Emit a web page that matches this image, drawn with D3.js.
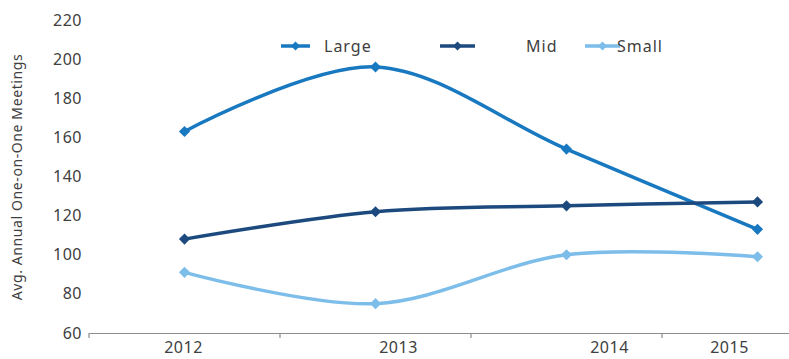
<!DOCTYPE html>
<html>
<head>
<meta charset="utf-8">
<script src="https://cdn.jsdelivr.net/npm/d3@7"></script>
<style>
  html, body { margin: 0; padding: 0; background: #fff; }
  svg { display: block; }
  text { font-family: "Noto Sans", "Open Sans", sans-serif; fill: #404040; }
</style>
</head>
<body>
<svg id="chart" width="789" height="359"></svg>
<script>
// Categories and series values
const years = ["2012", "2013", "2014", "2015"];
const largeValues = [163, 196, 154, 113];
const midValues = [108, 122, 125, 127];
const smallValues = [91, 75, 100, 99];
const yTicks = [60, 80, 100, 120, 140, 160, 180, 200, 220];
const seriesNames = ["Large", "Mid", "Small"];

const series = [
  { name: seriesNames[0], values: largeValues, color: "#1878c0" },
  { name: seriesNames[1], values: midValues, color: "#1d4a7e" },
  { name: seriesNames[2], values: smallValues, color: "#7dbde9" }
];

const svg = d3.select("#chart");

// Category axis: bands continue past the right edge of the view
const x = d3.scaleBand().domain(years).range([89, 853]);
const y = d3.scaleLinear().domain([60, 220]).range([333, 20]);

// Nudges for the year labels along the axis
const labelNudge = [-1, 23, 43, -28];

// y tick labels (no axis line)
svg.append("g")
  .selectAll("text")
  .data(yTicks)
  .join("text")
  .attr("x", 82)
  .attr("y", d => y(d))
  .attr("dy", "0.35em")
  .attr("text-anchor", "end")
  .style("font-size", "16px")
  .style("letter-spacing", "0.5px")
  .text(d => d);

// x axis
const xAxis = svg.append("g")
  .attr("transform", "translate(0,333)")
  .call(d3.axisBottom(x).tickSize(0).tickSizeOuter(0));
xAxis.select(".domain").attr("stroke", "#8c8c8c").attr("stroke-width", 1.2);
xAxis.selectAll(".tick text")
  .attr("y", 14)
  .attr("dy", "0.35em")
  .attr("dx", (d, i) => labelNudge[i])
  .style("font-size", "16px")
  .style("letter-spacing", "0.5px")
  .style("fill", "#404040")
  .style("font-family", "'Noto Sans', sans-serif");

// band boundary tick marks
svg.append("g")
  .selectAll("line")
  .data(years)
  .join("line")
  .attr("x1", d => x(d))
  .attr("x2", d => x(d))
  .attr("y1", 333)
  .attr("y2", 338)
  .attr("stroke", "#8c8c8c")
  .attr("stroke-width", 1.2);

// y axis title
svg.append("text")
  .attr("transform", "translate(17,177) rotate(-90)")
  .attr("text-anchor", "middle")
  .attr("dy", "0.35em")
  .style("font-size", "14px")
  .style("letter-spacing", "0.6px")
  .text("Avg. Annual One-on-One Meetings");

// smoothed series lines
const line = d3.line()
  .x((d, i) => x(years[i]) + x.bandwidth() / 2)
  .y(d => y(d))
  .curve(d3.curveCardinal.tension(0));

const diamond = d3.symbol().type(d3.symbolSquare).size(62);

const groups = svg.append("g")
  .selectAll("g")
  .data(series)
  .join("g");

groups.append("path")
  .attr("d", d => line(d.values))
  .attr("fill", "none")
  .attr("stroke", d => d.color)
  .attr("stroke-width", 3.5)
  .attr("stroke-linecap", "round");

groups.each(function (s) {
  d3.select(this).selectAll("path.marker")
    .data(s.values)
    .join("path")
    .attr("class", "marker")
    .attr("d", diamond)
    .attr("fill", s.color)
    .attr("transform", (d, i) =>
      `translate(${x(years[i]) + x.bandwidth() / 2},${y(d)}) rotate(45)`);
});

// legend
const legendItems = [
  { x1: 281, x2: 310, tx: 324 },
  { x1: 440, x2: 475, tx: 526 },
  { x1: 585, x2: 620, tx: 617 }
];
const legend = svg.append("g").attr("transform", "translate(0,46)");
series.forEach((s, i) => {
  const L = legendItems[i];
  legend.append("line")
    .attr("x1", L.x1).attr("x2", L.x2)
    .attr("stroke", s.color).attr("stroke-width", 3.5);
  legend.append("path")
    .attr("d", d3.symbol().type(d3.symbolSquare).size(40))
    .attr("fill", s.color)
    .attr("transform", `translate(${(L.x1 + L.x2) / 2},0) rotate(45)`);
  legend.append("text")
    .attr("x", L.tx)
    .attr("dy", "0.35em")
    .style("font-size", "16px")
    .style("letter-spacing", "1px")
    .text(s.name);
});
</script>
</body>
</html>
